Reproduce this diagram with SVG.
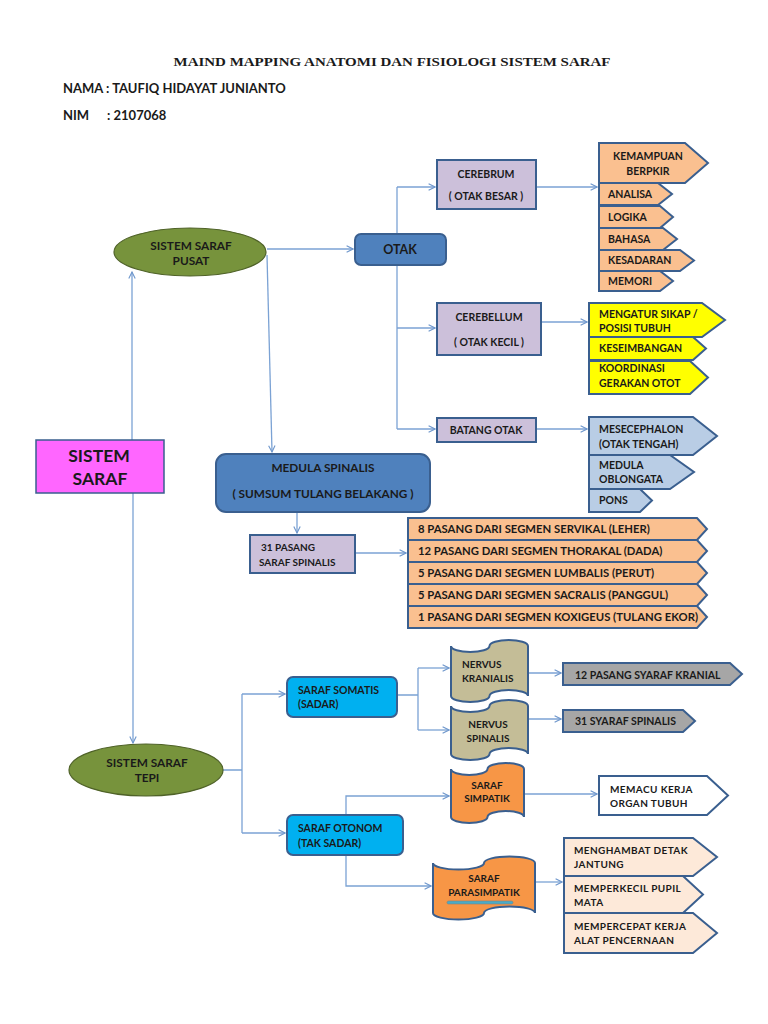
<svg xmlns="http://www.w3.org/2000/svg" width="768" height="1024" viewBox="0 0 768 1024">
<defs>
<marker id="arr" viewBox="0 0 10 10" refX="9" refY="5" markerWidth="8" markerHeight="8" markerUnits="userSpaceOnUse" orient="auto">
<path d="M1,1 L9,5 L1,9" fill="none" stroke="#6F97CC" stroke-width="1.4"/>
</marker>
</defs>
<style>
.t{font-family:Lato,"Open Sans","Liberation Sans",sans-serif;font-weight:700;font-size:10.5px;fill:#1a1a1a}
.c{text-anchor:middle}
.big{font-size:11.8px}
.sp{font-size:11.3px}
.lt{letter-spacing:0.4px;font-size:10px}
.sh{stroke:#3A5F8F;stroke-width:2}
.ln{fill:none;stroke:#7BA2D4;stroke-width:1.3;marker-end:url(#arr)}
.ln0{fill:none;stroke:#7BA2D4;stroke-width:1.3}
.orange{fill:#FAC090}
.lav{fill:#CCC0DA}
.blue{fill:#4F81BD}
.yel{fill:#FFFF00}
.lblue{fill:#B9CDE5}
.cyan{fill:#00B0F0}
.tan{fill:#C4BD97}
.org2{fill:#F79646}
.grey{fill:#A6A6A6}
.peach{fill:#FDE9D9}
.green{fill:#77933C;stroke:#4F6228;stroke-width:1.2}
</style>
<rect x="0" y="0" width="768" height="1024" fill="#ffffff"/>

<g id="header">
<text x="392" y="66" text-anchor="middle" font-family="Liberation Serif, serif" font-weight="700" font-size="13.5" fill="#1a1a1a" textLength="437" lengthAdjust="spacingAndGlyphs">MAIND MAPPING ANATOMI DAN FISIOLOGI SISTEM SARAF</text>
<text class="t" x="63" y="93" style="font-size:13px">NAMA : TAUFIQ HIDAYAT JUNIANTO</text>
<text class="t" x="63" y="120" style="font-size:13px">NIM</text>
<text class="t" x="107" y="120" style="font-size:13px">: 2107068</text>
</g>

<g id="connectors">
<path class="ln" d="M132,440 L132,272"/>
<path class="ln" d="M133,493 L133,743"/>
<path class="ln" d="M267,249 L353,249"/>
<path class="ln" d="M267,255 L272,452"/>
<path class="ln0" d="M397,187 L397,429"/>
<path class="ln" d="M397,187 L435,187"/>
<path class="ln" d="M397,328 L435,328"/>
<path class="ln" d="M397,429 L435,429"/>
<path class="ln" d="M536,187 L597,187"/>
<path class="ln" d="M541,322 L587,322"/>
<path class="ln" d="M536,429 L587,429"/>
<path class="ln" d="M297,512 L297,533"/>
<path class="ln" d="M355,553 L406,553"/>
<path class="ln0" d="M223,770 L242,770 M242,694 L242,833"/>
<path class="ln" d="M242,694 L285,694"/>
<path class="ln" d="M242,833 L285,833"/>
<path class="ln0" d="M397,695 L418,695 M418,668 L418,730"/>
<path class="ln" d="M418,668 L449,668"/>
<path class="ln" d="M418,730 L449,730"/>
<path class="ln" d="M528,673 L561,673"/>
<path class="ln" d="M528,719 L561,719"/>
<path class="ln" d="M346,815 L346,796 L449,796"/>
<path class="ln" d="M346,855 L346,886 L431,886"/>
<path class="ln" d="M523,794 L597,794"/>
<path class="ln" d="M535,882 L562,882"/>
</g>

<g id="sistem-saraf">
<rect x="36" y="440" width="128" height="53" fill="#FF66FF" stroke="#3A5F8F" stroke-width="1.5"/>
<text class="t c" x="99" y="462" style="font-size:17.5px">SISTEM</text>
<text class="t c" x="100" y="485" style="font-size:17.5px">SARAF</text>
</g>

<g id="ss-pusat">
<ellipse class="green" cx="190" cy="252" rx="76" ry="24"/>
<text class="t c big" x="191" y="250">SISTEM SARAF</text>
<text class="t c big" x="191" y="265">PUSAT</text>
</g>

<g id="otak">
<rect class="blue sh" x="355" y="234" width="91" height="31" rx="6"/>
<text class="t c" x="400" y="254" style="font-size:12.5px">OTAK</text>
</g>

<g id="cerebrum">
<rect class="lav sh" x="437" y="160" width="99" height="49"/>
<text class="t c" x="486" y="178">CEREBRUM</text>
<text class="t c" x="486" y="200">( OTAK BESAR )</text>
</g>

<g id="cerebellum">
<rect class="lav sh" x="437" y="303" width="104" height="52"/>
<text class="t c" x="489" y="321">CEREBELLUM</text>
<text class="t c" x="489" y="346">( OTAK KECIL )</text>
</g>

<g id="batang-otak">
<rect class="lav sh" x="437" y="418" width="99" height="24"/>
<text class="t c" x="486" y="434">BATANG OTAK</text>
</g>

<g id="cerebrum-list">
<polygon class="orange sh" points="599,143 685,143 708,163 685,183 599,183"/>
<text class="t c" x="648" y="160">KEMAMPUAN</text>
<text class="t c" x="648" y="175">BERPKIR</text>
<polygon class="orange sh" points="599,183 658,183 672,194 658,205 599,205"/>
<text class="t" x="608" y="198">ANALISA</text>
<polygon class="orange sh" points="599,206 660,206 673,217 660,228 599,228"/>
<text class="t" x="608" y="221">LOGIKA</text>
<polygon class="orange sh" points="599,228 663,228 677,239 663,250 599,250"/>
<text class="t" x="608" y="243">BAHASA</text>
<polygon class="orange sh" points="599,250 680,250 694,260.5 680,271 599,271"/>
<text class="t" x="608" y="264">KESADARAN</text>
<polygon class="orange sh" points="599,271 660,271 673,281 660,291 599,291"/>
<text class="t" x="608" y="285">MEMORI</text>
</g>

<g id="cerebellum-list">
<polygon class="yel sh" points="589,303 702,303 725,320 702,337 589,337"/>
<text class="t" x="599" y="318">MENGATUR SIKAP /</text>
<text class="t" x="599" y="332">POSISI TUBUH</text>
<polygon class="yel sh" points="589,337 693,337 706,348.5 693,360 589,360"/>
<text class="t" x="599" y="352">KESEIMBANGAN</text>
<polygon class="yel sh" points="589,361 690,361 708,377.5 690,394 589,394"/>
<text class="t" x="599" y="372">KOORDINASI</text>
<text class="t" x="599" y="387">GERAKAN OTOT</text>
</g>

<g id="batang-list">
<polygon class="lblue sh" points="589,417 693,417 717,436 693,455 589,455"/>
<text class="t" x="599" y="433">MESECEPHALON</text>
<text class="t" x="599" y="448">(OTAK TENGAH)</text>
<polygon class="lblue sh" points="589,455 670,455 694,472 670,489 589,489"/>
<text class="t" x="599" y="469">MEDULA</text>
<text class="t" x="599" y="483">OBLONGATA</text>
<polygon class="lblue sh" points="589,489 640,489 652,500.5 640,512 589,512"/>
<text class="t" x="599" y="504">PONS</text>
</g>

<g id="medula-spinalis">
<rect class="blue sh" x="216" y="454" width="214" height="58" rx="10"/>
<text class="t c big" x="323" y="472">MEDULA SPINALIS</text>
<text class="t c big" x="323" y="498">( SUMSUM TULANG BELAKANG )</text>
</g>

<g id="saraf-spinalis">
<rect class="lav sh" x="250" y="535" width="105" height="38"/>
<text class="t" x="261" y="551" style="font-size:10px">31 PASANG</text>
<text class="t" x="259" y="566" style="font-size:10px">SARAF SPINALIS</text>
</g>

<g id="spinal-list">
<polygon class="orange sh" points="408,518 697,518 707,529 697,540 408,540"/>
<text class="t sp" x="418" y="533">8 PASANG DARI SEGMEN SERVIKAL (LEHER)</text>
<polygon class="orange sh" points="408,540 697,540 707,551 697,562 408,562"/>
<text class="t sp" x="418" y="555">12 PASANG DARI SEGMEN THORAKAL (DADA)</text>
<polygon class="orange sh" points="408,562 697,562 707,573 697,584 408,584"/>
<text class="t sp" x="418" y="577">5 PASANG DARI SEGMEN LUMBALIS (PERUT)</text>
<polygon class="orange sh" points="408,584 697,584 707,595 697,606 408,606"/>
<text class="t sp" x="418" y="599">5 PASANG DARI SEGMEN SACRALIS (PANGGUL)</text>
<polygon class="orange sh" points="408,606 697,606 707,617 697,628 408,628"/>
<text class="t sp" x="418" y="621">1 PASANG DARI SEGMEN KOXIGEUS (TULANG EKOR)</text>
</g>

<g id="ss-tepi">
<ellipse class="green" cx="146" cy="770" rx="77" ry="26"/>
<text class="t c big" x="147" y="767">SISTEM SARAF</text>
<text class="t c big" x="147" y="782">TEPI</text>
</g>

<g id="saraf-somatis">
<rect class="cyan sh" x="287" y="677" width="110" height="40" rx="6"/>
<text class="t" x="298" y="694">SARAF SOMATIS</text>
<text class="t" x="298" y="708">(SADAR)</text>
</g>

<g id="saraf-otonom">
<rect class="cyan sh" x="287" y="815" width="116" height="40" rx="6"/>
<text class="t" x="298" y="832">SARAF OTONOM</text>
<text class="t" x="298" y="847">(TAK SADAR)</text>
</g>

<g id="nervus-kranialis">
<path class="tan sh" d="M451,646 A19.25,6 0 0 0 489.5,646 A19.25,6 0 0 1 528,646 L528,696 A19.25,6 0 0 0 489.5,696 A19.25,6 0 0 1 451,696 Z"/>
<text class="t" x="462" y="668" style="font-size:10px">NERVUS</text>
<text class="t" x="462" y="682" style="font-size:10px">KRANIALIS</text>
</g>

<g id="nervus-spinalis">
<path class="tan sh" d="M451,706 A19.25,6 0 0 0 489.5,706 A19.25,6 0 0 1 528,706 L528,754 A19.25,6 0 0 0 489.5,754 A19.25,6 0 0 1 451,754 Z"/>
<text class="t c" x="488" y="728" style="font-size:10px">NERVUS</text>
<text class="t c" x="488" y="742" style="font-size:10px">SPINALIS</text>
</g>

<g id="saraf-simpatik">
<path class="org2 sh" d="M451,769 A18.25,6 0 0 0 487.5,769 A18.25,6 0 0 1 524,769 L524,817 A18.25,6 0 0 0 487.5,817 A18.25,6 0 0 1 451,817 Z"/>
<text class="t c" x="487" y="789" style="font-size:10px">SARAF</text>
<text class="t c" x="487" y="802" style="font-size:10px">SIMPATIK</text>
</g>

<g id="saraf-parasimpatik">
<path class="org2 sh" d="M433,863 A25.5,6.5 0 0 0 484,863 A25.5,6.5 0 0 1 535,863 L535,913 A25.5,6.5 0 0 0 484,913 A25.5,6.5 0 0 1 433,913 Z"/>
<text class="t c" x="484" y="882" style="font-size:10px">SARAF</text>
<text class="t c" x="484" y="896" style="font-size:10px">PARASIMPATIK</text>
<rect x="447" y="901" width="66" height="3" rx="1.5" fill="#4BACC6" stroke="#7F7F7F" stroke-width="0.6"/>
</g>

<g id="kranial-list">
<polygon class="grey sh" points="563,663 730,663 742,674 730,685 563,685"/>
<text class="t" x="575" y="679">12 PASANG SYARAF KRANIAL</text>
</g>

<g id="spinalis-list">
<polygon class="grey sh" points="563,710 683,710 695,721 683,732 563,732"/>
<text class="t" x="575" y="725">31 SYARAF SPINALIS</text>
</g>

<g id="simpatik-list">
<polygon class="sh" fill="#ffffff" points="599,776 707,776 728,795.5 707,815 599,815"/>
<text class="t lt" x="610" y="793">MEMACU KERJA</text>
<text class="t lt" x="610" y="807">ORGAN TUBUH</text>
</g>

<g id="parasimpatik-list">
<polygon class="peach sh" points="564,838 693,838 717,857 693,876 564,876"/>
<text class="t lt" x="574" y="854">MENGHAMBAT DETAK</text>
<text class="t lt" x="574" y="868">JANTUNG</text>
<polygon class="peach sh" points="564,876 683,876 703,894.5 683,913 564,913"/>
<text class="t lt" x="574" y="892">MEMPERKECIL PUPIL</text>
<text class="t lt" x="574" y="906">MATA</text>
<polygon class="peach sh" points="564,913 693,913 717,933 693,953 564,953"/>
<text class="t lt" x="574" y="930">MEMPERCEPAT KERJA</text>
<text class="t lt" x="574" y="944">ALAT PENCERNAAN</text>
</g>
</svg>
